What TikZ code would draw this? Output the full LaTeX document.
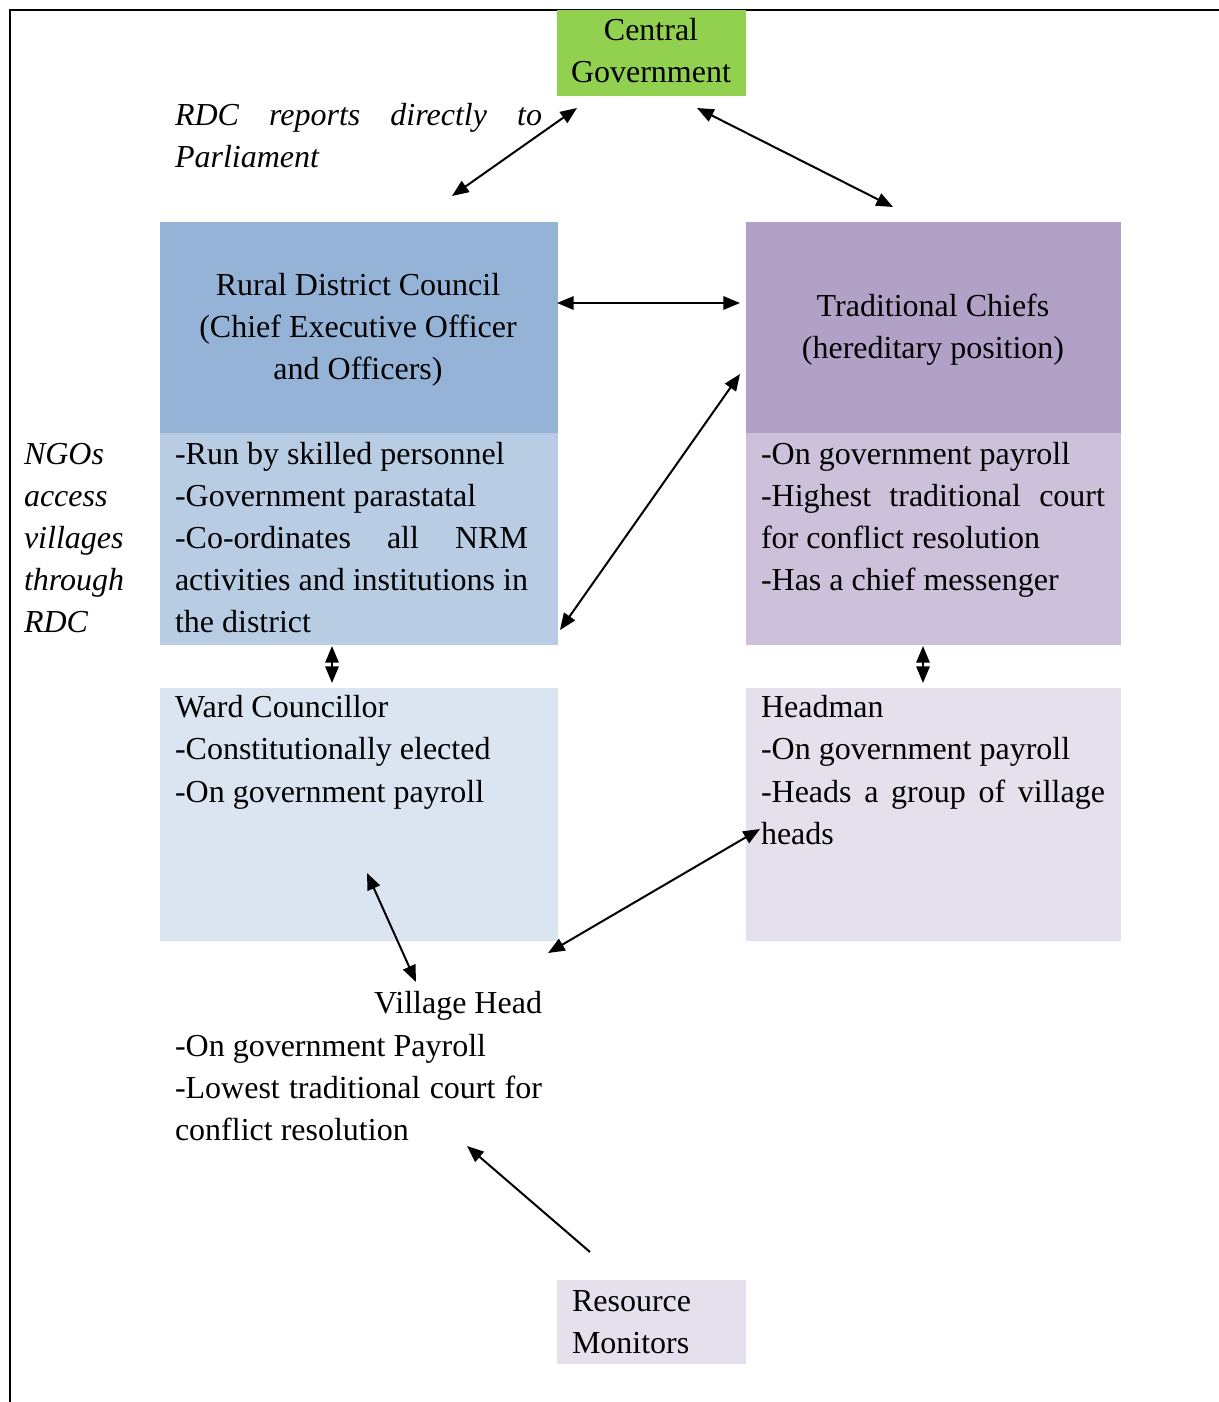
\documentclass[tikz,border=0pt]{standalone}
\usepackage{fontspec}
\setmainfont{Liberation Serif}
\usetikzlibrary{arrows.meta}
\definecolor{cgreen}{HTML}{92D050}
\definecolor{rdchead}{HTML}{95B3D7}
\definecolor{rdclow}{HTML}{B8CCE4}
\definecolor{trhead}{HTML}{B2A1C7}
\definecolor{trlow}{HTML}{CCC0DA}
\definecolor{wardc}{HTML}{DBE5F1}
\definecolor{headc}{HTML}{E5E0EC}
\tikzset{
  boxnode/.style={draw=none, inner sep=0pt, outer sep=0pt, anchor=north west},
  txt/.style={inner sep=0pt, outer sep=0pt, anchor=base west, font=\fontsize{24}{31.5}\selectfont},
  ctxt/.style={txt, anchor=base},
  itxt/.style={txt, font=\fontsize{24}{31.5}\selectfont\itshape},
  link/.style={line width=1.5pt, {Triangle[length=12.5pt,width=10pt]}-{Triangle[length=12.5pt,width=10pt]}},
  onelink/.style={line width=1.5pt, -{Triangle[length=12.5pt,width=10pt]}},
  frame/.style={line width=1.5pt}
}
\begin{document}
\begin{tikzpicture}[x=0.75pt,y=-0.75pt]
\useasboundingbox (0,0) rectangle (1219,1402);
% frame
\coordinate (fbl) at (10,1402);
\coordinate (ftl) at (10,10);
\coordinate (ftr) at (1219,10);
\draw[frame] (fbl) -- (ftl) -- (ftr);
% boxes
\node[boxnode, fill=cgreen, minimum width=189*0.75pt, minimum height=86*0.75pt] (cg) at (557,10) {};
\node[boxnode, fill=rdchead, minimum width=398*0.75pt, minimum height=211*0.75pt] (rdch) at (160,222) {};
\node[boxnode, fill=rdclow, minimum width=398*0.75pt, minimum height=212*0.75pt] (rdcl) at (160,433) {};
\node[boxnode, fill=trhead, minimum width=375*0.75pt, minimum height=211*0.75pt] (trh) at (746,222) {};
\node[boxnode, fill=trlow, minimum width=375*0.75pt, minimum height=212*0.75pt] (trl) at (746,433) {};
\node[boxnode, fill=wardc, minimum width=398*0.75pt, minimum height=253*0.75pt] (ward) at (160,688) {};
\node[boxnode, fill=headc, minimum width=375*0.75pt, minimum height=253*0.75pt] (headm) at (746,688) {};
\node[boxnode, fill=headc, minimum width=189*0.75pt, minimum height=84*0.75pt] (resm) at (557,1280) {};
% texts
\node[ctxt] (cg1) at (651,41) {Central};
\node[ctxt] (cg2) at (651,83) {Government};
\node[itxt] (rp1) at (175,126) {\makebox[275.25pt][s]{RDC reports directly to}};
\node[itxt] (rp2) at (175,168) {Parliament};
\node[ctxt] (rh1) at (358,295) {Rural District Council};
\node[ctxt] (rh2) at (358,337) {(Chief Executive Officer};
\node[ctxt] (rh3) at (358,379) {and Officers)};
\node[ctxt] (th1) at (933,316) {Traditional Chiefs};
\node[ctxt] (th2) at (933,358) {(hereditary position)};
\node[txt] (rl1) at (175,464) {-Run by skilled personnel};
\node[txt] (rl2) at (175,506) {-Government parastatal};
\node[txt] (rl3) at (175,548) {\makebox[264.75pt][s]{-Co-ordinates all NRM}};
\node[txt] (rl4) at (175,590) {\makebox[264.75pt][s]{activities and institutions in}};
\node[txt] (rl5) at (175,632) {the district};
\node[txt] (tl1) at (761,464) {-On government payroll};
\node[txt] (tl2) at (761,506) {\makebox[258pt][s]{-Highest traditional court}};
\node[txt] (tl3) at (761,548) {for conflict resolution};
\node[txt] (tl4) at (761,590) {-Has a chief messenger};
\node[itxt] (ng1) at (24,464) {NGOs};
\node[itxt] (ng2) at (24,506) {access};
\node[itxt] (ng3) at (24,548) {villages};
\node[itxt] (ng4) at (24,590) {through};
\node[itxt] (ng5) at (24,632) {RDC};
\node[txt] (wd1) at (175,717) {Ward Councillor};
\node[txt] (wd2) at (175,759) {-Constitutionally elected};
\node[txt] (wd3) at (175,802) {-On government payroll};
\node[txt] (hm1) at (761,717) {Headman};
\node[txt] (hm2) at (761,759) {-On government payroll};
\node[txt] (hm3) at (761,802) {\makebox[258pt][s]{-Heads a group of village}};
\node[txt] (hm4) at (761,844) {heads};
\node[txt, anchor=base east] (vh1) at (542,1013) {Village Head};
\node[txt] (vh2) at (175,1056) {-On government Payroll};
\node[txt] (vh3) at (175,1098) {\makebox[275.25pt][s]{-Lowest traditional court for}};
\node[txt] (vh4) at (175,1140) {conflict resolution};
\node[txt] (rm1) at (572,1311) {Resource};
\node[txt] (rm2) at (572,1353) {Monitors};
% connector end points
\coordinate (a1s) at (452,196); \coordinate (a1e) at (577,108);
\coordinate (a2s) at (697,108); \coordinate (a2e) at (893,207);
\coordinate (a3s) at (557,303); \coordinate (a3e) at (740,303);
\coordinate (a4s) at (560,630); \coordinate (a4e) at (740,374);
\coordinate (a5s) at (332,646); \coordinate (a5e) at (332,683);
\coordinate (a6s) at (923,646); \coordinate (a6e) at (923,683);
\coordinate (a7s) at (367,873); \coordinate (a7e) at (416,982);
\coordinate (a8s) at (548,953); \coordinate (a8e) at (760,829);
\coordinate (a9s) at (590,1252); \coordinate (a9e) at (467,1146);
\draw[link] (a1s) -- (a1e);
\draw[link] (a2s) -- (a2e);
\draw[link] (a3s) -- (a3e);
\draw[link] (a4s) -- (a4e);
\draw[link] (a5s) -- (a5e);
\draw[link] (a6s) -- (a6e);
\draw[link] (a7s) -- (a7e);
\draw[link] (a8s) -- (a8e);
\draw[onelink] (a9s) -- (a9e);
\end{tikzpicture}
\end{document}
